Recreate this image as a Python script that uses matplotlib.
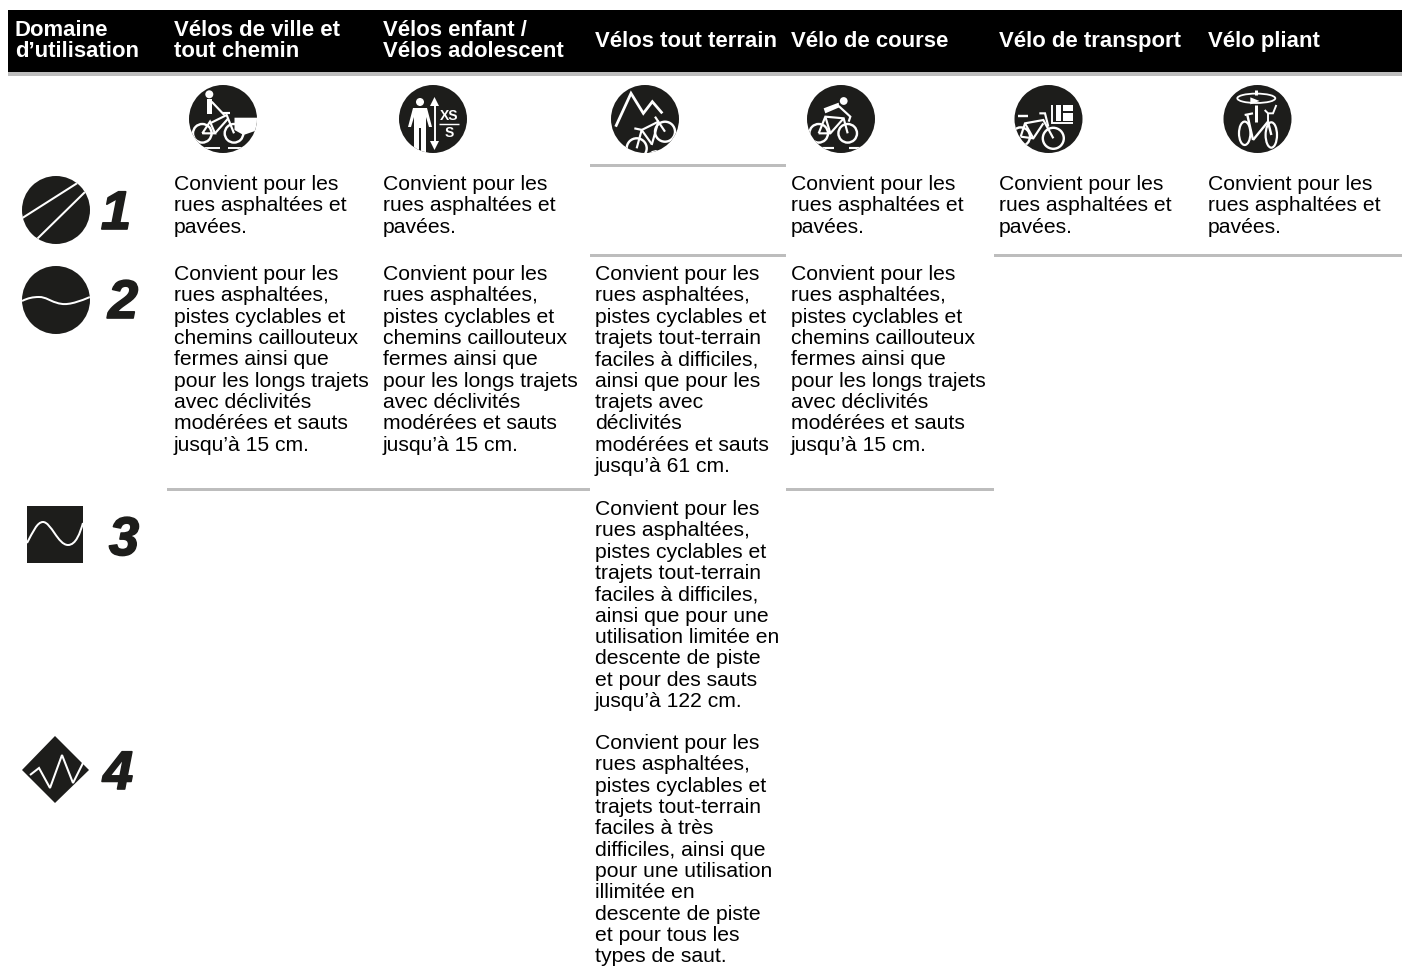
import matplotlib
matplotlib.use('Agg')
import matplotlib.pyplot as plt
import matplotlib.patheffects as pe
from matplotlib.patches import Circle, Ellipse, Polygon, Rectangle, PathPatch
from matplotlib.path import Path

plt.rcParams['font.family'] = ['Liberation Sans', 'DejaVu Sans']

DARK = '#1d1d1b'
GREY = '#bdbdbd'

headers = ["Domaine\nd\u2019utilisation", "V\u00e9los de ville et\ntout chemin",
           "V\u00e9los enfant /\nV\u00e9los adolescent", "V\u00e9los tout terrain",
           "V\u00e9lo de course", "V\u00e9lo de transport", "V\u00e9lo pliant"]
header_x = [15, 174, 383, 595, 791, 999, 1208]

level_labels = ['1', '2', '3', '4']
level_pos = [(116, 215), (123, 304), (124, 541), (118, 775)]

txt_paved = "Convient pour les\nrues asphalt\u00e9es et\npav\u00e9es."
txt_15 = ("Convient pour les\nrues asphalt\u00e9es,\npistes cyclables et\nchemins caillouteux\n"
          "fermes ainsi que\npour les longs trajets\navec d\u00e9clivit\u00e9s\n"
          "mod\u00e9r\u00e9es et sauts\njusqu\u2019\u00e0 15 cm.")
txt_61 = ("Convient pour les\nrues asphalt\u00e9es,\npistes cyclables et\ntrajets tout-terrain\n"
          "faciles \u00e0 difficiles,\nainsi que pour les\ntrajets avec\nd\u00e9clivit\u00e9s\n"
          "mod\u00e9r\u00e9es et sauts\njusqu\u2019\u00e0 61 cm.")
txt_122 = ("Convient pour les\nrues asphalt\u00e9es,\npistes cyclables et\ntrajets tout-terrain\n"
           "faciles \u00e0 difficiles,\nainsi que pour une\nutilisation limit\u00e9e en\n"
           "descente de piste\net pour des sauts\njusqu\u2019\u00e0 122 cm.")
txt_all = ("Convient pour les\nrues asphalt\u00e9es,\npistes cyclables et\ntrajets tout-terrain\n"
           "faciles \u00e0 tr\u00e8s\ndifficiles, ainsi que\npour une utilisation\nillimit\u00e9e en\n"
           "descente de piste\net pour tous les\ntypes de saut.")

# (x, y haut du bloc, texte)
cells = [(174, 175, txt_paved), (383, 175, txt_paved), (791, 175, txt_paved),
         (999, 175, txt_paved), (1208, 175, txt_paved),
         (174, 265, txt_15), (383, 265, txt_15), (595, 265, txt_61), (791, 265, txt_15),
         (595, 500, txt_122), (595, 734, txt_all)]

# filets gris (x0, x1, y)
rules = [(590, 786, 165), (590, 786, 255), (994, 1402, 255),
         (167, 590, 489), (786, 994, 489)]

fig = plt.figure(figsize=(14.02, 9.69), dpi=100)
ax = fig.add_axes([0, 0, 1, 1])
ax.set_xlim(0, 1402)
ax.set_ylim(969, 0)
ax.axis('off')


def lw(px):
    return px * 72 / 100


# les pictos sont relevés sur des crops x3, d'où ce changement de repère
def z(ox, oy, pts):
    return [(ox + p[0] / 3, oy + p[1] / 3) for p in pts]


def line(pts, clip=None, width=2, color='white', cap='butt'):
    xs = [p[0] for p in pts]
    ys = [p[1] for p in pts]
    l, = ax.plot(xs, ys, color=color, lw=lw(width * 1.2), solid_capstyle=cap,
                 solid_joinstyle='miter', zorder=3)
    if clip is not None:
        l.set_clip_path(clip)
    return l


def ring(x, y, r, clip=None, width=2.4, ry=None):
    p = Ellipse((x, y), 2 * r, 2 * (ry or r), fill=False, ec='white', lw=lw(width), zorder=3)
    ax.add_patch(p)
    if clip is not None:
        p.set_clip_path(clip)


def blob(pts, clip=None, zorder=3):
    p = Polygon(pts, fc='white', ec='none', zorder=zorder)
    ax.add_patch(p)
    if clip is not None:
        p.set_clip_path(clip)


def dot(x, y, r):
    ax.add_patch(Circle((x, y), r, fc='white', ec='none', zorder=3))


def curve(pts, clip=None, width=2):
    codes = [Path.MOVETO] + [Path.CURVE4] * (len(pts) - 1)
    p = PathPatch(Path(pts, codes), fill=False, ec='white', lw=lw(width), zorder=3)
    ax.add_patch(p)
    if clip is not None:
        p.set_clip_path(clip)


def disc(x, y, r=34):
    c = Circle((x, y), r, fc=DARK, ec='none', zorder=2)
    ax.add_patch(c)
    return c


# bandeau
ax.add_patch(Rectangle((8, 10), 1394, 62, fc='black', ec='none'))
ax.add_patch(Rectangle((8, 72), 1394, 4, fc=GREY, ec='none'))
for x, h in zip(header_x, headers):
    ax.text(x, 41, h, color='white', fontsize=15.9, fontweight='bold', va='center',
            linespacing=1.045)

for x0, x1, y in rules:
    ax.add_patch(Rectangle((x0, y - 1.5), x1 - x0, 3, fc=GREY, ec='none'))

for x, y, t in cells:
    ax.text(x, y, t, color='black', fontsize=15.25, va='top', linespacing=1.155)

for lab, (x, y) in zip(level_labels, level_pos):
    ax.text(x, y, lab, color=DARK, fontsize=39, fontweight='bold', fontstyle='italic',
            ha='center', va='center',
            path_effects=[pe.withStroke(linewidth=1.2, foreground=DARK)])

# pictos domaines
c = disc(56, 210)
line([(20, 219.5), (79, 182)], c, 1.7)
line([(36, 240), (85, 192)], c, 1.7)

c = disc(56, 300)
curve([(22, 301), (28, 298), (33, 297), (39, 297), (46, 297), (50, 301), (56, 302.5),
       (63, 305), (70, 305.5), (90, 297)], c, 2)

ax.add_patch(Rectangle((26.5, 506), 56.5, 57, fc=DARK, ec='none', zorder=2))
curve([(27, 543), (33, 532), (37, 522), (43, 522), (51, 522), (58, 545), (68, 545),
       (76, 545), (80, 533), (83, 523)], None, 2)

ax.add_patch(Polygon([(55, 736), (89, 770), (55, 803), (22, 770)], fc=DARK, ec='none', zorder=2))
line([(30, 775), (39, 768), (50, 788), (62, 755), (73, 783), (83, 763)], None, 1.7)

# velo de ville
O = (185, 80)
c = disc(223, 119)
blob([(234.5, 117.7), (262, 117.7), (262, 130), (255, 131), (243.5, 135), (234.5, 130)], c, 2.5)
ring(202.3, 133.3, 9.3, c)
ring(234, 133.3, 9.3, c)
line(z(*O, [(52, 160), (75, 125), (90, 160), (52, 160)]), c, 1.8)
line(z(*O, [(90, 160), (130, 115)]), c, 1.8)
line(z(*O, [(75, 130), (125, 105), (147, 160)]), c, 1.8)
line(z(*O, [(115, 100), (135, 100)]), c, 1.8)
dot(209.3, 94.3, 4)
ax.add_patch(Rectangle((206.7, 99), 5, 15, fc='white', ec='none', zorder=3))
line(z(*O, [(80, 65), (118, 105)]), c, 1.8)
line(z(*O, [(55, 205), (105, 205)]), c, 1.6)
line(z(*O, [(130, 205), (170, 205)]), c, 1.6)

# xs / s
c = disc(433, 119)
dot(420, 102, 4)
blob([(413, 108), (427, 108), (432, 127), (429, 127), (426, 117), (426, 153),
      (421, 153), (421, 128), (419, 128), (419, 153), (414, 153), (414, 117),
      (411, 127), (408, 127)], c)
line([(434.5, 102), (434.5, 146)], c, 1.6)
blob([(434.5, 97), (439, 106), (430, 106)], c)
blob([(434.5, 150), (439, 141), (430, 141)], c)
line([(439, 124), (459, 124)], c, 1.2)
ax.text(449, 115.5, 'XS', color='white', fontsize=10, fontweight='bold', ha='center',
        va='center', zorder=4)
ax.text(449, 133, 'S', color='white', fontsize=10, fontweight='bold', ha='center',
        va='center', zorder=4)

# vtt
O = (605, 80)
c = disc(645, 119)
line(z(*O, [(32, 140), (78, 40), (115, 100), (142, 65), (172, 100)]), c, 2.3)
ring(636.7, 148.3, 10, c)
ring(665, 131.7, 10, c)
line(z(*O, [(95, 205), (110, 150), (160, 125), (180, 155)]), c, 1.8)
line(z(*O, [(140, 195), (160, 125)]), c, 1.8)
line(z(*O, [(110, 150), (140, 192)]), c, 1.8)
line(z(*O, [(88, 145), (112, 150)]), c, 1.8)
line(z(*O, [(150, 110), (160, 125)]), c, 1.8)
blob([(648, 154), (652, 151), (656, 150), (660, 152), (668, 148), (680, 154)], c, 2.5)

# course
O = (802, 80)
c = disc(841, 119)
dot(843.7, 101, 3.9)
blob(z(*O, [(65, 85), (110, 68), (112, 82), (70, 100)]), c)
line(z(*O, [(110, 78), (145, 110), (140, 125)]), c, 1.8)
ring(818.7, 133.3, 9.3, c)
ring(847.7, 133.3, 9.3, c)
line(z(*O, [(50, 160), (70, 110), (125, 115), (137, 160)]), c, 1.8)
line(z(*O, [(50, 160), (85, 160), (125, 115)]), c, 1.8)
line(z(*O, [(70, 110), (85, 160)]), c, 1.8)
line(z(*O, [(60, 203), (95, 203)]), c, 1.8)
line(z(*O, [(140, 203), (185, 203)]), c, 1.8)

# transport
O = (1010, 80)
c = disc(1048.5, 119)
ring(1020.7, 136.7, 9.3, c)
ring(1053.3, 138.3, 10.5, c)
line(z(*O, [(32, 170), (45, 130), (100, 120), (130, 175)]), c, 1.8)
line(z(*O, [(32, 170), (70, 175), (100, 130)]), c, 1.8)
line(z(*O, [(45, 130), (70, 175)]), c, 1.8)
line(z(*O, [(25, 108), (55, 108)]), c, 2)
line(z(*O, [(88, 100), (105, 100), (115, 140)]), c, 1.8)
line(z(*O, [(125, 75), (125, 130), (190, 130)]), c, 1.6)
blob(z(*O, [(137, 75), (153, 75), (153, 122), (137, 122)]), c)
blob(z(*O, [(160, 75), (190, 75), (190, 92), (160, 92)]), c)
blob(z(*O, [(160, 100), (190, 100), (190, 122), (160, 122)]), c)

# pliant
O = (1218, 80)
c = disc(1257.5, 119)
ring(1256.3, 98.3, 19, c, 1.8, ry=4.7)
line(z(*O, [(115, 30), (115, 44)]), c, 2.5)
line(z(*O, [(115, 75), (115, 125)]), c, 2.5)
blob(z(*O, [(125, 63), (97, 52), (97, 73)]), c)
ring(1244.7, 133.3, 5.7, c, 2.2, ry=11.7)
ring(1271.3, 135, 5.7, c, 2.2, ry=12.7)
line(z(*O, [(80, 105), (105, 100)]), c, 1.8)
line(z(*O, [(88, 105), (105, 180)]), c, 2)
line(z(*O, [(105, 180), (150, 125), (160, 165)]), c, 2)
line(z(*O, [(140, 90), (150, 100), (165, 100), (175, 75)]), c, 1.6)
line(z(*O, [(150, 100), (150, 125)]), c, 1.6)

fig.savefig('out.png', dpi=100, facecolor='white')
